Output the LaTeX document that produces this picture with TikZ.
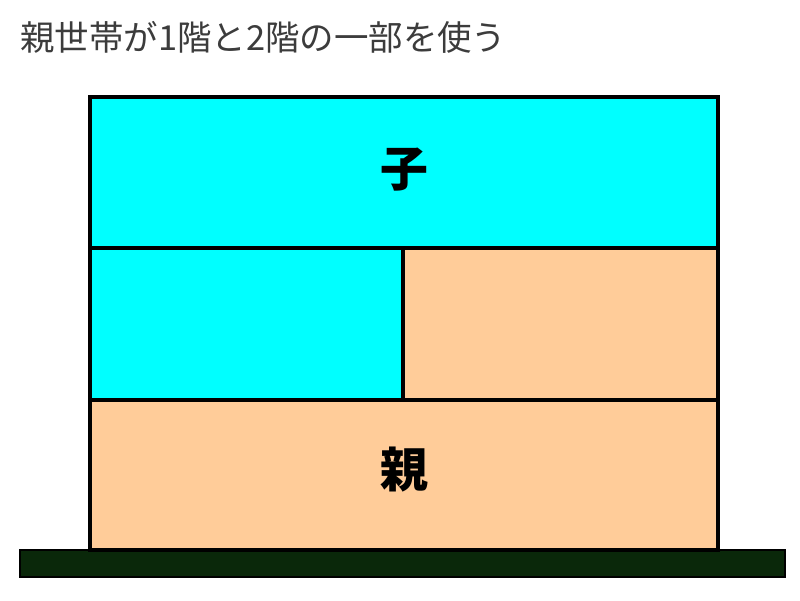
\documentclass[tikz,border=0pt]{standalone}
\usepackage{fontspec}
\setmainfont{Noto Sans CJK JP}
\usepackage{tikz}
\definecolor{ko}{HTML}{00FFFF}
\definecolor{oya}{HTML}{FFCC99}
\definecolor{jimen}{HTML}{0A280A}
\definecolor{moji}{HTML}{3C3C3C}

\begin{document}
\begin{tikzpicture}[x=0.025cm,y=-0.025cm,
    room/.style={draw=black,line width=2.2pt},
    label/.style={font=\fontsize{34pt}{36pt}\selectfont\bfseries}]
      \useasboundingbox (0,0) rectangle (800,600);

      \node[anchor=west,inner sep=0pt,text=moji,font=\fontsize{24.5pt}{28pt}\selectfont] (title) at (20,37) {親世帯が1階と2階の一部を使う};

      % ground
      \draw[fill=jimen,draw=black,line width=1.5pt] (20,550) rectangle (785,577);

      % floors
      \draw[room,fill=ko] (90,97) rectangle (718,248);
      \draw[room,fill=ko] (90,248) rectangle (403,400);
      \draw[room,fill=oya] (403,248) rectangle (718,400);
      \draw[room,fill=oya] (90,400) rectangle (718,550);

      \path
      (404,170) node[label](child) {子}
      (404,470) node[label](parent) {親}
      ;
    \end{tikzpicture}
\end{document}
